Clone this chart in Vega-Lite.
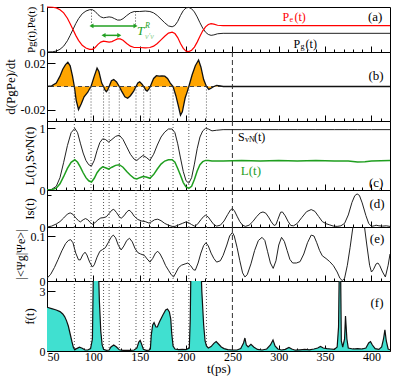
{
"$schema": "https://vega.github.io/schema/vega-lite/v6.json",
"background": "white",
"padding": {"left": 3, "top": 0, "right": 0, "bottom": 0},
"spacing": 0,
"bounds": "flush",
"config": {
  "font": "Liberation Serif",
  "view": {"stroke": "black", "strokeWidth": 1},
  "axis": {"labelFont": "Liberation Serif", "titleFont": "Liberation Serif", "labelFontSize": 12, "titleFontSize": 13, "titleFontWeight": "normal", "labelColor": "black", "titleColor": "black", "tickColor": "black", "domain": false, "grid": false},
  "axisX": {"tickCount": 37, "tickSize": {"condition": {"test": "datum.value % 50 == 0", "value": -6}, "value": -3}, "labelExpr": "datum.value % 50 == 0 ? datum.label : ''", "labelPadding": 6, "titlePadding": 0},
  "axisY": {"labelPadding": 10, "titlePadding": 3},
  "text": {"font": "Liberation Serif"}
},
"datasets": {
  "dots": [{"t": 79.5}, {"t": 97.5}, {"t": 111}, {"t": 117}, {"t": 128}, {"t": 146}, {"t": 154.3}, {"t": 161.4}, {"t": 186}, {"t": 203}, {"t": 222}],
  "dash": [{"t": 250}],
  "aguide": [{"t": 98, "top": 0.94, "bot": 0.58}, {"t": 145.5, "top": 0.9, "bot": 0.58}],
  "arrows": [{"t0": 98, "t1": 145.5, "v": 0.58}, {"t0": 111, "t1": 128, "v": 0.37}],
  "da": [
    {"t":50,"pg":0,"pe":1},{"t":56,"pg":0.005,"pe":0.995},{"t":60,"pg":0.02,"pe":0.98},{"t":64,"pg":0.06,"pe":0.94},{"t":68,"pg":0.13,"pe":0.87},{"t":72,"pg":0.25,"pe":0.75},{"t":75,"pg":0.37,"pe":0.63},{"t":78,"pg":0.5,"pe":0.5},{"t":81,"pg":0.63,"pe":0.37},{"t":84,"pg":0.74,"pe":0.26},{"t":88,"pg":0.85,"pe":0.15},{"t":92,"pg":0.91,"pe":0.09},{"t":96,"pg":0.94,"pe":0.06},{"t":99,"pg":0.94,"pe":0.06},{"t":102,"pg":0.9,"pe":0.1},{"t":105,"pg":0.83,"pe":0.17},{"t":108,"pg":0.78,"pe":0.22},{"t":111,"pg":0.76,"pe":0.24},{"t":114,"pg":0.77,"pe":0.23},{"t":117,"pg":0.78,"pe":0.22},{"t":120,"pg":0.77,"pe":0.23},{"t":123,"pg":0.74,"pe":0.26},{"t":126,"pg":0.71,"pe":0.29},{"t":129,"pg":0.71,"pe":0.29},{"t":132,"pg":0.74,"pe":0.26},{"t":136,"pg":0.81,"pe":0.19},{"t":140,"pg":0.87,"pe":0.13},{"t":144,"pg":0.9,"pe":0.1},{"t":150,"pg":0.9,"pe":0.1},{"t":156,"pg":0.91,"pe":0.09},{"t":161,"pg":0.9,"pe":0.1},{"t":165,"pg":0.87,"pe":0.13},{"t":169,"pg":0.81,"pe":0.19},{"t":173,"pg":0.73,"pe":0.27},{"t":177,"pg":0.65,"pe":0.35},{"t":181,"pg":0.58,"pe":0.42},{"t":185,"pg":0.56,"pe":0.44},{"t":188,"pg":0.59,"pe":0.41},{"t":191,"pg":0.68,"pe":0.32},{"t":194,"pg":0.81,"pe":0.19},{"t":197,"pg":0.92,"pe":0.08},{"t":200,"pg":0.98,"pe":0.02},{"t":203,"pg":0.99,"pe":0.01},{"t":206,"pg":0.96,"pe":0.04},{"t":209,"pg":0.89,"pe":0.11},{"t":212,"pg":0.78,"pe":0.22},{"t":215,"pg":0.65,"pe":0.35},{"t":218,"pg":0.53,"pe":0.47},{"t":221,"pg":0.44,"pe":0.56},{"t":224,"pg":0.39,"pe":0.61},{"t":227,"pg":0.37,"pe":0.63},{"t":230,"pg":0.38,"pe":0.62},{"t":234,"pg":0.405,"pe":0.595},{"t":240,"pg":0.415,"pe":0.585},{"t":420,"pg":0.415,"pe":0.585}
  ],
  "db": [
    {"t":50,"v":0},{"t":55,"v":0.0005},{"t":60,"v":0.003},{"t":64,"v":0.009},{"t":67,"v":0.015},{"t":70,"v":0.019},{"t":72.5,"v":0.021},{"t":75,"v":0.018},{"t":77.5,"v":0.009},{"t":79.5,"v":0},{"t":81.5,"v":-0.012},{"t":84,"v":-0.02},{"t":87,"v":-0.015},{"t":90,"v":-0.009},{"t":94,"v":-0.005},{"t":96,"v":-0.002},{"t":97.5,"v":0},{"t":101,"v":0.009},{"t":104,"v":0.016},{"t":106,"v":0.013},{"t":109,"v":0.003},{"t":111,"v":0},{"t":112.5,"v":-0.003},{"t":114,"v":-0.0045},{"t":115.5,"v":-0.003},{"t":117,"v":0},{"t":119.5,"v":0.005},{"t":122,"v":0.006},{"t":125,"v":0.004},{"t":128,"v":0},{"t":130.5,"v":-0.004},{"t":134,"v":-0.009},{"t":137,"v":-0.0102},{"t":140,"v":-0.008},{"t":143.5,"v":-0.004},{"t":146,"v":0},{"t":148,"v":0.003},{"t":150,"v":0.004},{"t":152.5,"v":0.002},{"t":154.3,"v":0},{"t":156.5,"v":-0.003},{"t":158,"v":-0.004},{"t":160,"v":-0.002},{"t":161.4,"v":0},{"t":165,"v":0.007},{"t":168,"v":0.0094},{"t":171,"v":0.009},{"t":174,"v":0.0092},{"t":177,"v":0.009},{"t":180,"v":0.007},{"t":183,"v":0.003},{"t":186,"v":0},{"t":189,"v":-0.008},{"t":192,"v":-0.018},{"t":194,"v":-0.025},{"t":196,"v":-0.022},{"t":199,"v":-0.01},{"t":201.5,"v":-0.004},{"t":203,"v":0},{"t":206.5,"v":0.01},{"t":210,"v":0.018},{"t":213.5,"v":0.023},{"t":216,"v":0.017},{"t":219,"v":0.006},{"t":222,"v":0},{"t":224.5,"v":-0.0025},{"t":227,"v":-0.0015},{"t":230,"v":0},{"t":233,"v":0.001},{"t":237,"v":0.0005},{"t":240,"v":0},{"t":420,"v":0}
  ],
  "dc": [
    {"t":50,"S":0,"L":0},{"t":55,"S":0.01,"L":0.005},{"t":60,"S":0.06,"L":0.03},{"t":64,"S":0.2,"L":0.1},{"t":68,"S":0.45,"L":0.22},{"t":72,"S":0.72,"L":0.35},{"t":76,"S":0.93,"L":0.45},{"t":80,"S":1.0,"L":0.49},{"t":83,"S":0.93,"L":0.45},{"t":86,"S":0.76,"L":0.37},{"t":89,"S":0.6,"L":0.28},{"t":92,"S":0.48,"L":0.2},{"t":95,"S":0.41,"L":0.15},{"t":98,"S":0.39,"L":0.13},{"t":101,"S":0.48,"L":0.19},{"t":104,"S":0.64,"L":0.28},{"t":107,"S":0.77,"L":0.34},{"t":110,"S":0.83,"L":0.375},{"t":113,"S":0.82,"L":0.36},{"t":116.5,"S":0.78,"L":0.34},{"t":120,"S":0.82,"L":0.37},{"t":124,"S":0.87,"L":0.4},{"t":128,"S":0.89,"L":0.41},{"t":132,"S":0.82,"L":0.37},{"t":136,"S":0.7,"L":0.3},{"t":140,"S":0.58,"L":0.24},{"t":144,"S":0.5,"L":0.19},{"t":147,"S":0.48,"L":0.18},{"t":150,"S":0.52,"L":0.2},{"t":153.5,"S":0.56,"L":0.22},{"t":157,"S":0.53,"L":0.21},{"t":161,"S":0.48,"L":0.19},{"t":165,"S":0.58,"L":0.25},{"t":169,"S":0.73,"L":0.34},{"t":173,"S":0.86,"L":0.42},{"t":177,"S":0.94,"L":0.47},{"t":181,"S":0.99,"L":0.49},{"t":185,"S":0.99,"L":0.49},{"t":188,"S":0.93,"L":0.45},{"t":191,"S":0.75,"L":0.35},{"t":194,"S":0.52,"L":0.24},{"t":197,"S":0.3,"L":0.12},{"t":200,"S":0.15,"L":0.05},{"t":203,"S":0.11,"L":0.025},{"t":206,"S":0.2,"L":0.06},{"t":209,"S":0.42,"L":0.17},{"t":212,"S":0.67,"L":0.31},{"t":215,"S":0.86,"L":0.41},{"t":218,"S":0.96,"L":0.46},{"t":221,"S":1.0,"L":0.48},{"t":224,"S":0.99,"L":0.48},{"t":228,"S":0.96,"L":0.47},{"t":233,"S":0.97,"L":0.47},{"t":240,"S":0.98,"L":0.47},{"t":260,"S":0.98,"L":0.48},{"t":280,"S":0.98,"L":0.47},{"t":300,"S":0.98,"L":0.48},{"t":320,"S":0.98,"L":0.47},{"t":340,"S":0.98,"L":0.48},{"t":360,"S":0.98,"L":0.47},{"t":375,"S":0.98,"L":0.47},{"t":385,"S":0.98,"L":0.455},{"t":393,"S":0.98,"L":0.46},{"t":400,"S":0.98,"L":0.47},{"t":420,"S":0.98,"L":0.48}
  ],
  "dd": [
    {"t":50,"v":0},{"t":55,"v":0.0003},{"t":60,"v":0.001},{"t":64,"v":0.0018},{"t":68,"v":0.003},{"t":72,"v":0.0043},{"t":75,"v":0.0047},{"t":78,"v":0.0042},{"t":81,"v":0.003},{"t":84,"v":0.0021},{"t":86,"v":0.0017},{"t":89,"v":0.0024},{"t":91.5,"v":0.0028},{"t":94,"v":0.0024},{"t":97,"v":0.0014},{"t":99,"v":0.0009},{"t":102,"v":0.0015},{"t":105,"v":0.0024},{"t":108,"v":0.003},{"t":111,"v":0.0031},{"t":114,"v":0.0034},{"t":117,"v":0.0045},{"t":120,"v":0.0056},{"t":122,"v":0.0059},{"t":125,"v":0.0048},{"t":128,"v":0.0034},{"t":130,"v":0.0029},{"t":133,"v":0.0037},{"t":136,"v":0.005},{"t":138.5,"v":0.0056},{"t":141,"v":0.005},{"t":144,"v":0.0036},{"t":148,"v":0.0025},{"t":152,"v":0.002},{"t":156,"v":0.0018},{"t":160,"v":0.0013},{"t":163,"v":0.0018},{"t":166,"v":0.0024},{"t":169.5,"v":0.0026},{"t":173,"v":0.0021},{"t":177,"v":0.0012},{"t":181,"v":0.0006},{"t":185,"v":0.0002},{"t":188,"v":0.0002},{"t":192,"v":0.0007},{"t":196,"v":0.0012},{"t":200,"v":0.0017},{"t":203,"v":0.0014},{"t":206,"v":0.0008},{"t":209,"v":0.0003},{"t":212,"v":0.0008},{"t":216,"v":0.0024},{"t":219,"v":0.0035},{"t":221,"v":0.0039},{"t":224,"v":0.0033},{"t":227,"v":0.002},{"t":230,"v":0.0008},{"t":233,"v":0.0003},{"t":237,"v":0.0006},{"t":241,"v":0.002},{"t":245,"v":0.0042},{"t":248,"v":0.0057},{"t":250,"v":0.0061},{"t":252,"v":0.0055},{"t":255,"v":0.0036},{"t":258,"v":0.0018},{"t":261,"v":0.0006},{"t":264,"v":0.0002},{"t":268,"v":0.0006},{"t":272,"v":0.0018},{"t":276,"v":0.0034},{"t":280,"v":0.0047},{"t":283,"v":0.005},{"t":286,"v":0.0046},{"t":289,"v":0.0033},{"t":292,"v":0.0017},{"t":295,"v":0.0005},{"t":297,"v":0.0008},{"t":299,"v":0.0025},{"t":302,"v":0.0049},{"t":304,"v":0.005},{"t":307,"v":0.0037},{"t":310,"v":0.0019},{"t":313,"v":0.0005},{"t":316,"v":0.0004},{"t":320,"v":0.0012},{"t":325,"v":0.0032},{"t":330,"v":0.0051},{"t":335,"v":0.0058},{"t":339,"v":0.0052},{"t":343,"v":0.0035},{"t":347,"v":0.0018},{"t":351,"v":0.0011},{"t":355,"v":0.0007},{"t":359,"v":0.0003},{"t":363,"v":0.0002},{"t":367,"v":0.0004},{"t":371,"v":0.0012},{"t":375,"v":0.004},{"t":379,"v":0.0082},{"t":382,"v":0.0104},{"t":384.5,"v":0.011},{"t":387,"v":0.0105},{"t":390,"v":0.008},{"t":394,"v":0.0038},{"t":397,"v":0.0012},{"t":400,"v":0.0002},{"t":403,"v":0.0004},{"t":405,"v":0.0006},{"t":408,"v":0.0004},{"t":412,"v":0.0003},{"t":416,"v":0.0004},{"t":420,"v":0.0002}
  ],
  "de": [
    {"t":50,"v":0.006},{"t":54,"v":0.015},{"t":58,"v":0.03},{"t":62,"v":0.048},{"t":66,"v":0.067},{"t":70,"v":0.083},{"t":73,"v":0.09},{"t":75.5,"v":0.092},{"t":78,"v":0.085},{"t":81,"v":0.062},{"t":84,"v":0.047},{"t":86,"v":0.047},{"t":88.5,"v":0.058},{"t":91,"v":0.064},{"t":93,"v":0.058},{"t":96,"v":0.042},{"t":99,"v":0.031},{"t":101,"v":0.036},{"t":104,"v":0.053},{"t":107,"v":0.066},{"t":110,"v":0.07},{"t":113,"v":0.074},{"t":116,"v":0.085},{"t":119,"v":0.097},{"t":121.5,"v":0.102},{"t":124,"v":0.096},{"t":127,"v":0.079},{"t":130,"v":0.069},{"t":133,"v":0.078},{"t":136,"v":0.09},{"t":139,"v":0.095},{"t":142,"v":0.087},{"t":145,"v":0.072},{"t":148,"v":0.063},{"t":151,"v":0.06},{"t":155,"v":0.057},{"t":158,"v":0.049},{"t":161,"v":0.042},{"t":164,"v":0.05},{"t":167,"v":0.062},{"t":169.5,"v":0.066},{"t":172,"v":0.06},{"t":175,"v":0.048},{"t":178,"v":0.034},{"t":181,"v":0.024},{"t":184,"v":0.014},{"t":186.5,"v":0.009},{"t":189,"v":0.018},{"t":192,"v":0.03},{"t":195,"v":0.035},{"t":199,"v":0.038},{"t":202,"v":0.04},{"t":205,"v":0.034},{"t":208,"v":0.025},{"t":210,"v":0.024},{"t":213,"v":0.04},{"t":216,"v":0.062},{"t":219,"v":0.079},{"t":221.5,"v":0.085},{"t":224,"v":0.078},{"t":227,"v":0.062},{"t":230,"v":0.05},{"t":233,"v":0.042},{"t":237,"v":0.045},{"t":240,"v":0.057},{"t":244,"v":0.08},{"t":247,"v":0.1},{"t":250,"v":0.108},{"t":252,"v":0.1},{"t":255,"v":0.075},{"t":258,"v":0.045},{"t":261,"v":0.018},{"t":263.5,"v":0.009},{"t":266,"v":0.014},{"t":270,"v":0.038},{"t":274,"v":0.068},{"t":278,"v":0.09},{"t":282,"v":0.097},{"t":285,"v":0.09},{"t":288,"v":0.065},{"t":291,"v":0.04},{"t":294,"v":0.028},{"t":297,"v":0.045},{"t":300,"v":0.08},{"t":303,"v":0.097},{"t":306,"v":0.088},{"t":309,"v":0.068},{"t":312,"v":0.048},{"t":315,"v":0.04},{"t":319,"v":0.04},{"t":323,"v":0.043},{"t":327,"v":0.06},{"t":331,"v":0.085},{"t":335,"v":0.102},{"t":338,"v":0.1},{"t":341,"v":0.085},{"t":344,"v":0.068},{"t":347,"v":0.056},{"t":351,"v":0.05},{"t":355,"v":0.043},{"t":359,"v":0.034},{"t":363,"v":0.02},{"t":366,"v":0.006},{"t":368.5,"v":0.001},{"t":371,"v":0.006},{"t":374,"v":0.035},{"t":377,"v":0.075},{"t":380,"v":0.12},{"t":383,"v":0.15},{"t":386,"v":0.16},{"t":389,"v":0.145},{"t":392.5,"v":0.12},{"t":395,"v":0.08},{"t":398,"v":0.035},{"t":400,"v":0.02},{"t":402,"v":0.025},{"t":405,"v":0.038},{"t":407,"v":0.04},{"t":409,"v":0.034},{"t":412,"v":0.02},{"t":415,"v":0.009},{"t":418,"v":0.035},{"t":420,"v":0.06}
  ],
  "df": [
    {"t":50,"v":2.19},{"t":55,"v":2.12},{"t":60,"v":2.05},{"t":64,"v":1.97},{"t":67,"v":1.85},{"t":69,"v":1.72},{"t":71,"v":1.52},{"t":73,"v":1.25},{"t":75,"v":0.85},{"t":77,"v":0.45},{"t":78.5,"v":0.18},{"t":80,"v":0.06},{"t":82,"v":0.12},{"t":85,"v":0.19},{"t":88,"v":0.14},{"t":91,"v":0.05},{"t":94,"v":0.05},{"t":97,"v":0.12},{"t":99,"v":0.6},{"t":100,"v":4},{"t":105,"v":5},{"t":106.5,"v":2.5},{"t":108,"v":1.0},{"t":109.5,"v":0.3},{"t":111,"v":0.08},{"t":114,"v":0.03},{"t":117,"v":0.05},{"t":119,"v":0.2},{"t":122,"v":0.3},{"t":125,"v":0.2},{"t":128,"v":0.06},{"t":132,"v":0.03},{"t":136,"v":0.03},{"t":140,"v":0.03},{"t":144,"v":0.05},{"t":147,"v":0.15},{"t":149,"v":0.45},{"t":150.5,"v":0.53},{"t":152,"v":0.35},{"t":154,"v":0.08},{"t":157,"v":0.03},{"t":160,"v":0.04},{"t":161.5,"v":0.1},{"t":162.5,"v":0.8},{"t":164,"v":1.3},{"t":165.5,"v":1.42},{"t":167.5,"v":1.2},{"t":169,"v":1.2},{"t":171.5,"v":1.48},{"t":175,"v":1.8},{"t":178,"v":2.05},{"t":180,"v":2.1},{"t":182,"v":1.95},{"t":183.5,"v":1.6},{"t":184.5,"v":0.9},{"t":186,"v":0.25},{"t":188,"v":0.1},{"t":192,"v":0.07},{"t":196,"v":0.08},{"t":200,"v":0.07},{"t":203.5,"v":0.15},{"t":204.5,"v":1.5},{"t":205.5,"v":5},{"t":215.5,"v":5},{"t":217,"v":3},{"t":219,"v":1.3},{"t":220.5,"v":0.5},{"t":222,"v":0.25},{"t":224,"v":0.15},{"t":227,"v":0.22},{"t":230,"v":0.38},{"t":232.5,"v":0.47},{"t":235,"v":0.35},{"t":238,"v":0.2},{"t":241,"v":0.12},{"t":245,"v":0.07},{"t":250,"v":0.05},{"t":255,"v":0.05},{"t":259,"v":0.12},{"t":262,"v":0.4},{"t":263.5,"v":0.65},{"t":265,"v":0.3},{"t":267,"v":0.2},{"t":270,"v":0.33},{"t":273,"v":0.2},{"t":277,"v":0.08},{"t":282,"v":0.05},{"t":287,"v":0.1},{"t":291,"v":0.3},{"t":293.8,"v":0.55},{"t":296,"v":0.25},{"t":299,"v":0.1},{"t":303,"v":0.05},{"t":307,"v":0.08},{"t":311,"v":0.18},{"t":314,"v":0.1},{"t":318,"v":0.04},{"t":323,"v":0.06},{"t":328,"v":0.08},{"t":333,"v":0.06},{"t":338,"v":0.1},{"t":342,"v":0.15},{"t":345,"v":0.23},{"t":348,"v":0.15},{"t":352,"v":0.12},{"t":356,"v":0.1},{"t":360,"v":0.08},{"t":363,"v":0.2},{"t":364.5,"v":1.2},{"t":365.5,"v":5},{"t":366.5,"v":5},{"t":367.5,"v":0.5},{"t":369,"v":0.2},{"t":371,"v":0.6},{"t":372,"v":1.75},{"t":373.5,"v":0.6},{"t":375,"v":0.15},{"t":380,"v":0.1},{"t":385,"v":0.12},{"t":390,"v":0.1},{"t":394,"v":0.15},{"t":397,"v":0.4},{"t":399,"v":0.47},{"t":401,"v":0.3},{"t":404,"v":0.12},{"t":408,"v":0.08},{"t":411,"v":0.2},{"t":413,"v":0.6},{"t":414.5,"v":1.06},{"t":416,"v":0.5},{"t":418,"v":0.1},{"t":420,"v":0.06}
  ]
},
"vconcat": [
  {
    "width": 343, "height": 45,
    "encoding": {"x": {"field": "t", "type": "quantitative", "scale": {"domain": [50, 420], "nice": false, "zero": false}, "axis": {"labels": false, "title": null}}},
    "layer": [
      {"data": {"name": "da"}, "mark": {"type": "line", "color": "#222", "strokeWidth": 1},
       "encoding": {"y": {"field": "pg", "type": "quantitative", "scale": {"domain": [0, 1], "nice": false},
         "axis": {"values": [0, 0.25, 0.5, 0.75, 1], "labelExpr": "datum.value == 0 ? '0' : datum.value == 0.5 ? '0.5' : datum.value == 1 ? '1' : ''", "tickSize": {"condition": {"test": "datum.value == 0.25 || datum.value == 0.75", "value": -4}, "value": -8}, "title": "Pg(t),Pe(t)", "titleFontSize": 11}}}},
      {"data": {"name": "da"}, "mark": {"type": "line", "color": "#ff0000", "strokeWidth": 1.2},
       "encoding": {"y": {"field": "pe", "type": "quantitative"}}},
      {"data": {"name": "aguide"}, "mark": {"type": "rule", "color": "#444", "strokeDash": [1, 2], "strokeWidth": 1},
       "encoding": {"y": {"field": "top", "type": "quantitative"}, "y2": {"field": "bot"}}},
      {"data": {"name": "arrows"}, "mark": {"type": "rule", "color": "#22a022", "strokeWidth": 1.5},
       "encoding": {"x": {"field": "t0", "type": "quantitative"}, "x2": {"field": "t1"}, "y": {"field": "v", "type": "quantitative"}}},
      {"data": {"name": "arrows"}, "mark": {"type": "point", "shape": "triangle-left", "filled": true, "color": "#22a022", "size": 22, "opacity": 1},
       "encoding": {"x": {"field": "t0", "type": "quantitative"}, "y": {"field": "v", "type": "quantitative"}}},
      {"data": {"name": "arrows"}, "mark": {"type": "point", "shape": "triangle-right", "filled": true, "color": "#22a022", "size": 22, "opacity": 1},
       "encoding": {"x": {"field": "t1", "type": "quantitative"}, "y": {"field": "v", "type": "quantitative"}}},
      {"data": {"values": [{"t": 147, "v": 0.46, "label": "T"}]}, "mark": {"type": "text", "color": "#22a022", "fontSize": 13, "fontStyle": "italic", "align": "left", "baseline": "middle"},
       "encoding": {"y": {"field": "v", "type": "quantitative"}, "text": {"field": "label"}}},
      {"data": {"values": [{"t": 147, "v": 0.46, "label": "R"}]}, "mark": {"type": "text", "color": "#22a022", "fontSize": 8, "fontStyle": "italic", "align": "left", "baseline": "middle", "dx": 8, "dy": -5},
       "encoding": {"y": {"field": "v", "type": "quantitative"}, "text": {"field": "label"}}},
      {"data": {"values": [{"t": 147, "v": 0.46, "label": "ν′ν"}]}, "mark": {"type": "text", "color": "#8fd08f", "fontSize": 8, "fontStyle": "italic", "align": "left", "baseline": "middle", "dx": 8, "dy": 6},
       "encoding": {"y": {"field": "v", "type": "quantitative"}, "text": {"field": "label"}}},
      {"data": {"values": [{"t": 304, "v": 0.78, "label": "P", "c": "r"}, {"t": 316, "v": 0.18, "label": "P", "c": "k"}]}, "mark": {"type": "text", "fontSize": 12, "align": "left", "baseline": "middle"},
       "encoding": {"y": {"field": "v", "type": "quantitative"}, "text": {"field": "label"}, "color": {"field": "c", "type": "nominal", "scale": {"domain": ["r", "k"], "range": ["#ff0000", "#000000"]}, "legend": null}}},
      {"data": {"values": [{"t": 304, "v": 0.78, "label": "e", "c": "r"}, {"t": 316, "v": 0.18, "label": "g", "c": "k"}]}, "mark": {"type": "text", "fontSize": 8, "align": "left", "baseline": "middle", "dx": 7, "dy": 3},
       "encoding": {"y": {"field": "v", "type": "quantitative"}, "text": {"field": "label"}, "color": {"field": "c", "type": "nominal", "legend": null}}},
      {"data": {"values": [{"t": 304, "v": 0.78, "label": "(t)", "c": "r"}, {"t": 316, "v": 0.18, "label": "(t)", "c": "k"}]}, "mark": {"type": "text", "fontSize": 12, "align": "left", "baseline": "middle", "dx": 12},
       "encoding": {"y": {"field": "v", "type": "quantitative"}, "text": {"field": "label"}, "color": {"field": "c", "type": "nominal", "legend": null}}},
      {"data": {"values": [{"t": 404, "v": 0.78, "label": "(a)"}]}, "mark": {"type": "text", "color": "black", "fontSize": 13, "baseline": "middle"},
       "encoding": {"y": {"field": "v", "type": "quantitative"}, "text": {"field": "label"}}}
    ]
  },
  {
    "width": 343, "height": 69,
    "encoding": {"x": {"field": "t", "type": "quantitative", "scale": {"domain": [50, 420], "nice": false, "zero": false}, "axis": {"labels": false, "title": null}}},
    "layer": [
      {"data": {"name": "db"}, "mark": {"type": "area", "color": "#FFA500", "opacity": 1},
       "encoding": {"y": {"field": "v", "type": "quantitative", "scale": {"domain": [-0.03, 0.03], "nice": false, "zero": false},
         "axis": {"values": [-0.02, -0.01, 0, 0.01, 0.02], "labelExpr": "datum.value == 0.02 ? '0.02' : datum.value == 0 ? '0' : datum.value == -0.02 ? '-0.02' : ''", "tickSize": {"condition": {"test": "datum.value == 0.01 || datum.value == -0.01", "value": -4}, "value": -8}, "title": "d(PgPe)/dt"}},
         "y2": {"datum": 0}}},
      {"data": {"name": "dash"}, "mark": {"type": "rule", "color": "#444", "strokeDash": [4, 3], "strokeWidth": 1},
       "encoding": {"x": null, "y": {"datum": 0}}},
      {"data": {"name": "db"}, "mark": {"type": "line", "color": "#111", "strokeWidth": 1.3},
       "encoding": {"y": {"field": "v", "type": "quantitative"}}},
      {"data": {"name": "dots"}, "mark": {"type": "rule", "color": "#555", "strokeDash": [1, 2], "strokeWidth": 1},
       "encoding": {"y": {"datum": 0}, "y2": {"datum": -0.03}}},
      {"data": {"name": "dash"}, "mark": {"type": "rule", "color": "#333", "strokeDash": [5, 3], "strokeWidth": 1}, "encoding": {}},
      {"data": {"values": [{"t": 405, "v": 0.0088, "label": "(b)"}]}, "mark": {"type": "text", "color": "black", "fontSize": 13, "baseline": "middle"},
       "encoding": {"y": {"field": "v", "type": "quantitative"}, "text": {"field": "label"}}}
    ]
  },
  {
    "width": 343, "height": 69,
    "encoding": {"x": {"field": "t", "type": "quantitative", "scale": {"domain": [50, 420], "nice": false, "zero": false}, "axis": {"labels": false, "title": null}}},
    "layer": [
      {"data": {"name": "dots"}, "mark": {"type": "rule", "color": "#555", "strokeDash": [1, 2], "strokeWidth": 1}, "encoding": {}},
      {"data": {"name": "dash"}, "mark": {"type": "rule", "color": "#333", "strokeDash": [5, 3], "strokeWidth": 1}, "encoding": {}},
      {"data": {"name": "dc"}, "mark": {"type": "line", "color": "#222", "strokeWidth": 1},
       "encoding": {"y": {"field": "S", "type": "quantitative", "scale": {"domain": [0, 1.12], "nice": false},
         "axis": {"values": [0, 0.25, 0.5, 0.75, 1], "labelExpr": "datum.value == 0 ? '0' : datum.value == 0.5 ? '0.5' : datum.value == 1 ? '1' : ''", "tickSize": {"condition": {"test": "datum.value == 0.25 || datum.value == 0.75", "value": -4}, "value": -8}, "title": "L(t),SvN(t)"}}}},
      {"data": {"name": "dc"}, "mark": {"type": "line", "color": "#1f9e1f", "strokeWidth": 1.5},
       "encoding": {"y": {"field": "L", "type": "quantitative"}}},
      {"data": {"values": [{"t": 256, "v": 0.86, "label": "S"}]}, "mark": {"type": "text", "color": "black", "fontSize": 12, "align": "left", "baseline": "middle"},
       "encoding": {"y": {"field": "v", "type": "quantitative"}, "text": {"field": "label"}}},
      {"data": {"values": [{"t": 256, "v": 0.86, "label": "vN"}]}, "mark": {"type": "text", "color": "black", "fontSize": 8, "align": "left", "baseline": "middle", "dx": 7, "dy": 3},
       "encoding": {"y": {"field": "v", "type": "quantitative"}, "text": {"field": "label"}}},
      {"data": {"values": [{"t": 256, "v": 0.86, "label": "(t)"}]}, "mark": {"type": "text", "color": "black", "fontSize": 12, "align": "left", "baseline": "middle", "dx": 16},
       "encoding": {"y": {"field": "v", "type": "quantitative"}, "text": {"field": "label"}}},
      {"data": {"values": [{"t": 259, "v": 0.31, "label": "L(t)"}]}, "mark": {"type": "text", "color": "#1f9e1f", "fontSize": 13, "align": "left", "baseline": "middle"},
       "encoding": {"y": {"field": "v", "type": "quantitative"}, "text": {"field": "label"}}},
      {"data": {"values": [{"t": 405, "v": 0.11, "label": "(c)"}]}, "mark": {"type": "text", "color": "black", "fontSize": 13, "baseline": "middle"},
       "encoding": {"y": {"field": "v", "type": "quantitative"}, "text": {"field": "label"}}}
    ]
  },
  {
    "width": 343, "height": 37,
    "encoding": {"x": {"field": "t", "type": "quantitative", "scale": {"domain": [50, 420], "nice": false, "zero": false}, "axis": {"labels": false, "title": null}}},
    "layer": [
      {"data": {"name": "dots"}, "mark": {"type": "rule", "color": "#555", "strokeDash": [1, 2], "strokeWidth": 1}, "encoding": {}},
      {"data": {"name": "dash"}, "mark": {"type": "rule", "color": "#333", "strokeDash": [5, 3], "strokeWidth": 1}, "encoding": {}},
      {"data": {"name": "dd"}, "mark": {"type": "line", "color": "#222", "strokeWidth": 1, "clip": true},
       "encoding": {"y": {"field": "v", "type": "quantitative", "scale": {"domain": [0, 0.0123], "nice": false},
         "axis": {"values": [0, 0.0035, 0.007, 0.0105], "labelExpr": "datum.value == 0 ? '0' : datum.value == 0.007 ? '0.007' : ''", "tickSize": {"condition": {"test": "datum.value == 0.0035 || datum.value == 0.0105", "value": -4}, "value": -8}, "title": "Is(t)"}}}},
      {"data": {"values": [{"t": 406, "v": 0.0078, "label": "(d)"}]}, "mark": {"type": "text", "color": "black", "fontSize": 13, "baseline": "middle"},
       "encoding": {"y": {"field": "v", "type": "quantitative"}, "text": {"field": "label"}}}
    ]
  },
  {
    "width": 343, "height": 54,
    "encoding": {"x": {"field": "t", "type": "quantitative", "scale": {"domain": [50, 420], "nice": false, "zero": false}, "axis": {"labels": false, "title": null}}},
    "layer": [
      {"data": {"name": "dots"}, "mark": {"type": "rule", "color": "#555", "strokeDash": [1, 2], "strokeWidth": 1}, "encoding": {}},
      {"data": {"name": "dash"}, "mark": {"type": "rule", "color": "#333", "strokeDash": [5, 3], "strokeWidth": 1}, "encoding": {}},
      {"data": {"name": "de"}, "mark": {"type": "line", "color": "#222", "strokeWidth": 1, "clip": true},
       "encoding": {"y": {"field": "v", "type": "quantitative", "scale": {"domain": [0, 0.12], "nice": false},
         "axis": {"values": [0, 0.05, 0.1], "labelExpr": "datum.value == 0 ? '0' : datum.value == 0.1 ? '0.1' : ''", "tickSize": {"condition": {"test": "datum.value == 0.05", "value": -4}, "value": -8}, "title": "|<Ψg|Ψe>|", "titleFontSize": 12}}}},
      {"data": {"values": [{"t": 406, "v": 0.093, "label": "(e)"}]}, "mark": {"type": "text", "color": "black", "fontSize": 13, "baseline": "middle"},
       "encoding": {"y": {"field": "v", "type": "quantitative"}, "text": {"field": "label"}}}
    ]
  },
  {
    "width": 343, "height": 70,
    "encoding": {"x": {"field": "t", "type": "quantitative", "scale": {"domain": [50, 420], "nice": false, "zero": false}, "axis": {"title": "t(ps)"}}},
    "layer": [
      {"data": {"name": "dots"}, "mark": {"type": "rule", "color": "#555", "strokeDash": [1, 2], "strokeWidth": 1}, "encoding": {}},
      {"data": {"name": "dash"}, "mark": {"type": "rule", "color": "#333", "strokeDash": [5, 3], "strokeWidth": 1}, "encoding": {}},
      {"data": {"name": "df"}, "mark": {"type": "area", "color": "#40E0D0", "opacity": 1, "clip": true},
       "encoding": {"y": {"field": "v", "type": "quantitative", "scale": {"domain": [0, 3.5], "nice": false},
         "axis": {"values": [0, 1.5, 3], "labelExpr": "datum.value == 0 ? '0' : datum.value == 3 ? '3' : ''", "tickSize": {"condition": {"test": "datum.value == 1.5", "value": -4}, "value": -8}, "title": "f(t)"}}}},
      {"data": {"name": "df"}, "mark": {"type": "line", "color": "#111", "strokeWidth": 1.2, "clip": true},
       "encoding": {"y": {"field": "v", "type": "quantitative"}}},
      {"data": {"values": [{"t": 406, "v": 2.41, "label": "(f)"}]}, "mark": {"type": "text", "color": "black", "fontSize": 13, "baseline": "middle"},
       "encoding": {"y": {"field": "v", "type": "quantitative"}, "text": {"field": "label"}}}
    ]
  }
]
}
